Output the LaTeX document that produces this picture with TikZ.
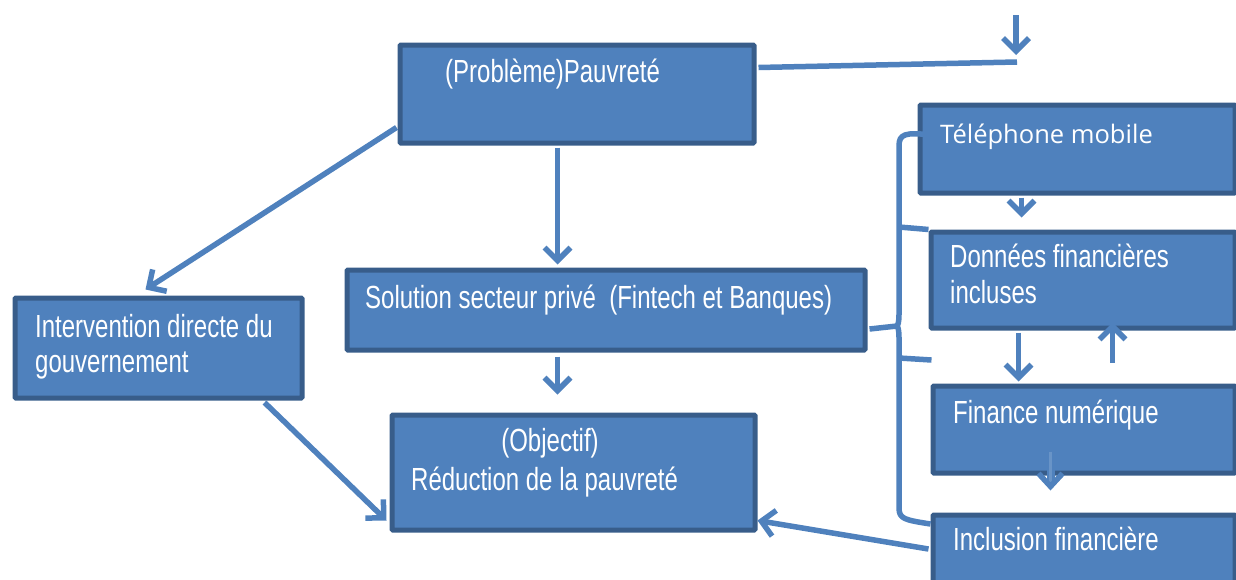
\documentclass[tikz,border=0pt]{standalone}
\usepackage{fontspec}
\setmainfont{Liberation Sans}[FakeStretch=0.75]
\newfontfamily\telfont{Open Sans}
\usetikzlibrary{arrows.meta,calc}
\definecolor{boxfill}{HTML}{4F81BD}
\definecolor{boxline}{HTML}{385D8A}
\definecolor{conn}{HTML}{4F81BD}
\tikzset{
  box/.style={draw=boxline, line width=5pt, fill=boxfill, rounded corners=1pt,
    anchor=north west, inner sep=0pt, rectangle},
  lbl/.style={anchor=base west, inner sep=0pt, text=white,
    font=\fontsize{32}{36}\selectfont},
  conline/.style={draw=conn, line width=5.5pt},
  conarrow/.style={conline, -{Straight Barb[length=13pt,width=26pt]}},
}
\begin{document}
\begin{tikzpicture}[x=1pt,y=-1pt]
\useasboundingbox (0,0) rectangle (1236,579);
\clip (0,0) rectangle (1236,579);
% boxes
\node[box, minimum width=354pt, minimum height=98pt] (prob) at (397.5,42.5) {};
\node[box, minimum width=518pt, minimum height=80pt] (sol) at (344.5,267.5) {};
\node[box, minimum width=287pt, minimum height=100pt] (gov) at (12.5,295.5) {};
\node[box, minimum width=363pt, minimum height=115pt] (obj) at (389.5,412.5) {};
\node[box, minimum width=315pt, minimum height=88pt] (tel) at (917.5,102.5) {};
\node[box, minimum width=304pt, minimum height=96pt] (don) at (928.5,229.5) {};
\node[box, minimum width=302pt, minimum height=87pt] (fin) at (930.5,383.5) {};
\node[box, minimum width=302pt, minimum height=80pt] (inc) at (930.5,512.5) {};
% texts
\node[lbl] (tprob) at (445,82) {(Problème)Pauvreté};
\node[lbl] (tsol) at (365,308) {Solution secteur privé\ \ (Fintech et Banques)};
\node[lbl] (tgov1) at (35,337) {Intervention directe du};
\node[lbl] (tgov2) at (35,372) {gouvernement};
\node[lbl, anchor=base] (tobj1) at (550,451) {(Objectif)};
\node[lbl] (tobj2) at (411,490) {Réduction de la pauvreté};
\node[lbl, font=\telfont\fontsize{25.5}{30}\selectfont] (ttel) at (940,143) {Téléphone mobile};
\node[lbl] (tdon1) at (950,267) {Données financières};
\node[lbl] (tdon2) at (950,303) {incluses};
\node[lbl] (tfin) at (953,423) {Finance numérique};
\node[lbl] (tinc) at (953,550) {Inclusion financière};
% free-end coordinates
\coordinate (rend) at (1017,62);
\coordinate (topA) at (1016,15);
\coordinate (topB) at (1016,55);
% connectors
\draw[conarrow] ($(prob.west)+(-1,33.5)$) -- ($(gov.north)+(-13,-6)$);
\draw[conarrow] ($(prob.south)+(-19.5,2)$) -- ($(sol.north)+(-48.5,-3)$);
\draw[conarrow] ($(sol.south)+(-48.5,4)$) -- ($(obj.north)+(-16,-18)$);
\draw[conarrow] ($(gov.south)+(106,2)$) -- ($(obj.west)+(-3,48)$);
\draw[conarrow] ($(inc.west)+(-2,-6)$) -- ($(obj.east)+(0,48)$);
\draw[conline] ($(prob.east)+(2,-26.5)$) -- (rend);
\draw[conarrow] (topA) -- (topB);
\draw[conarrow] ($(tel.south)+(-56,2)$) -- ($(don.north)+(-61.5,-12)$);
\draw[conarrow] ($(don.south)+(-64.5,2)$) -- ($(fin.north)+(-65.5,-2)$);
\draw[conarrow] ($(fin.north)+(28.5,-21)$) -- ($(don.south)+(29.5,-8)$);
% double-shafted arrow Finance -> Inclusion
\coordinate (dA) at ($(fin.south)+(-33.5,-24)$);
\coordinate (dB) at ($(inc.north)+(-33.5,-30)$);
\coordinate (dC) at ($(inc.north)+(-33.5,-22)$);
\draw[draw=conn, double=boxfill!85!white, double distance=3pt, line width=2.5pt] (dA) -- (dB);
\draw[conline, -{Straight Barb[length=13pt,width=24pt]}] (dB) -- (dC);
% brace
\coordinate (bcusp) at (897,326);
\draw[conline] ($(sol.east)+(2,19)$) -- (bcusp);
\draw[conline, line join=round] ($(tel.west)+(14,-14)$) .. controls (905,132) and (899,134) .. (899,146)
   -- (899,314) .. controls (899,322) and (898,325) .. (bcusp)
   .. controls (898,327) and (899,330) .. (899,338)
   -- (899,508) .. controls (899,519) and (905,520) .. ($(inc.west)+(0,-31)$);
\draw[conline] (899,227) -- ($(don.west)+(0,-50.5)$);
\draw[conline] (899,358) -- ($(fin.west)+(1,-69.5)$);
\end{tikzpicture}
\end{document}
